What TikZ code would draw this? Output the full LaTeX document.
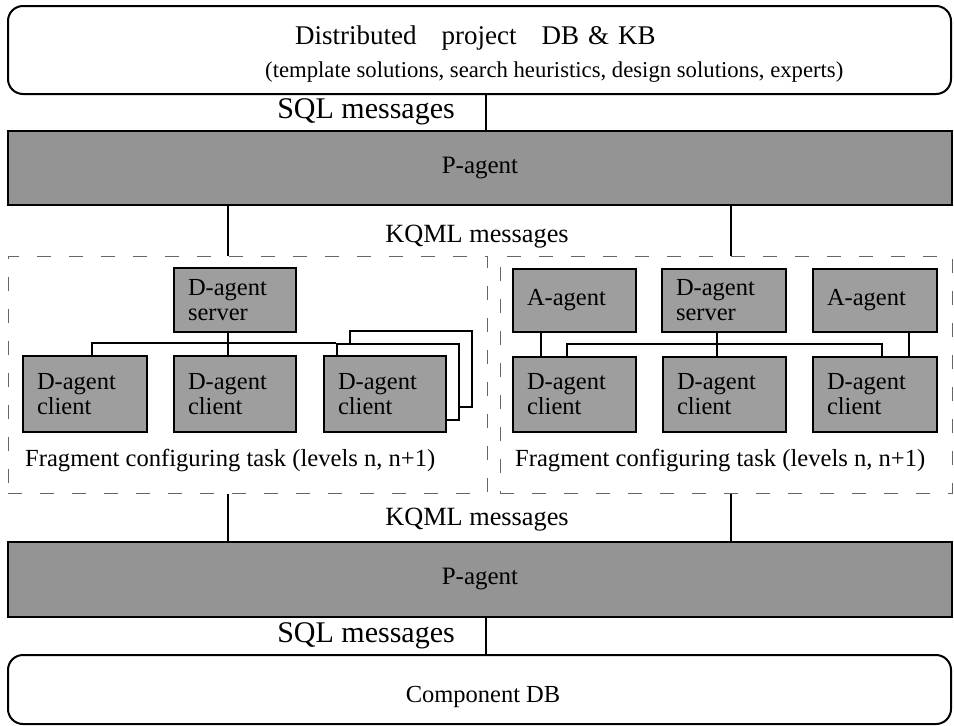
\documentclass[tikz,border=0pt]{standalone}
\usepackage{fontspec}
\setmainfont{Liberation Serif}
\usetikzlibrary{calc}
\begin{document}
\begin{tikzpicture}[x=1pt,y=-1pt,
  agent/.style={draw=black, line width=2pt, fill=black!38, rectangle, inner xsep=14pt, inner ysep=0pt,
    align=left, font=\fontsize{24.5}{25}\selectfont},
  page/.style={draw=black, line width=1.6pt, fill=white, rectangle, minimum width=122pt, minimum height=76pt, inner sep=0pt},
  bar/.style={draw=black, line width=2.2pt, fill=black!42, rectangle, minimum width=944pt, inner sep=0pt,
    font=\fontsize{25}{26}\selectfont},
  dbbox/.style={draw=black, line width=2pt, rounded corners=15pt, rectangle, minimum width=943pt, inner sep=0pt},
  panel/.style={draw=black!60, line width=1pt, dash pattern=on 14pt off 18pt, rectangle, inner sep=0pt},
  conn/.style={draw=black, line width=2pt},
  lbl/.style={inner sep=0pt, font=\fontsize{26.3}{27}\selectfont},
  sql/.style={inner sep=0pt, font=\fontsize{30}{31}\selectfont},
  frag/.style={inner sep=0pt, anchor=west, font=\fontsize{24.6}{26}\selectfont}
]
\useasboundingbox (0,0) rectangle (954,726);
\fill[white] (0,0) rectangle (954,726);

% top database box
\node[dbbox, minimum height=88pt] (db) at (479.5,50) {};
\node[inner sep=0pt, anchor=west, font=\fontsize{27}{28}\selectfont] (dbt1) at (295,38) {Distributed\hspace{25pt}project\hspace{25pt}DB\hspace{9pt}\&\hspace{9pt}KB};
\node[inner sep=0pt, anchor=west, font=\fontsize{22.7}{24}\selectfont] (dbt2) at (265,72) {(template solutions, search heuristics, design solutions, experts)};

% P-agent bars
\node[bar, minimum height=74pt] (p1) at (480,168) {P-agent};
\node[bar, minimum height=75pt] (p2) at (480,579.5) {P-agent};

% component DB
\node[dbbox, minimum height=69pt] (comp) at (479.5,689.5) {};
\node[inner sep=0pt, font=\fontsize{24.5}{25}\selectfont] (compt) at (483,697) {Component DB};

% labels
\node[sql] (sql1) at (366,112) {SQL messages};
\node[sql] (sql2) at (366,636) {SQL messages};
\node[lbl] (kq1) at (477,237) {KQML messages};
\node[lbl] (kq2) at (477,520) {KQML messages};

% panels
\node[panel, minimum width=479pt, minimum height=237pt] (lp) at (247.5,374.5) {};
\node[panel, minimum width=452pt, minimum height=237pt] (rp) at (726,374.5) {};

% left panel agents
\node[agent, minimum height=64pt, text width=94pt] (lsrv) at (235,300) {D-agent\\server};
\node[agent, minimum height=76pt, text width=96pt] (lc1) at (85,394) {D-agent\\client};
\node[agent, minimum height=76pt, text width=94pt] (lc2) at (235,394) {D-agent\\client};
\node[page] (lp3) at (411,369) {};
\node[page] (lp2) at (398,382) {};
\node[agent, minimum height=76pt, text width=94pt] (lc3) at (385,394) {D-agent\\client};
\node[frag] (lf) at (25,460) {Fragment configuring task (levels n, n+1)};

% right panel agents
\node[agent, minimum height=63pt, text width=95pt] (ra1) at (574.5,300.5) {A-agent};
\node[agent, minimum height=63pt, text width=96pt] (rs) at (724,300.5) {D-agent\\server};
\node[agent, minimum height=63pt, text width=96pt] (ra2) at (875,300.5) {A-agent};
\node[agent, minimum height=75pt, text width=95pt] (rc1) at (574.5,394.5) {D-agent\\client};
\node[agent, minimum height=75pt, text width=95pt] (rc2) at (724.5,394.5) {D-agent\\client};
\node[agent, minimum height=75pt, text width=96pt] (rc3) at (875,394.5) {D-agent\\client};
\node[frag] (rf) at (515,460) {Fragment configuring task (levels n, n+1)};

% helper coordinates
\coordinate (lx) at ([xshift=-7pt]lsrv.south);
\coordinate (rx) at ([xshift=7pt]rs.south);
\coordinate (mx) at (486,100);

% connectors
\draw[conn] (mx |- db.south) -- (mx |- p1.north);
\draw[conn] (mx |- p2.south) -- (mx |- comp.north);
\draw[conn] (lx |- p1.south) -- (lx |- lp.north);
\draw[conn] (rx |- p1.south) -- (rx |- rp.north);
\draw[conn] (lx |- lp.south) -- (lx |- p2.north);
\draw[conn] (rx |- rp.south) -- (rx |- p2.north);

\draw[conn] ([xshift=-7pt]lsrv.south) -- ([xshift=-7pt]lc2.north);
\draw[conn] ([xshift=7pt]lc1.north) |- (lp2.north west);

\draw[conn] ([xshift=-33.5pt]ra1.south) -- ([xshift=-33.5pt]rc1.north);
\draw[conn] ([xshift=-7pt]rs.south) -- ([xshift=-7.5pt]rc2.north);
\draw[conn] ([xshift=-7.5pt]rc1.north) -- ++(0,-12) -| ([xshift=7pt]rc3.north);
\draw[conn] ([xshift=34pt]ra2.south) -- ([xshift=34pt]rc3.north);
\end{tikzpicture}
\end{document}
